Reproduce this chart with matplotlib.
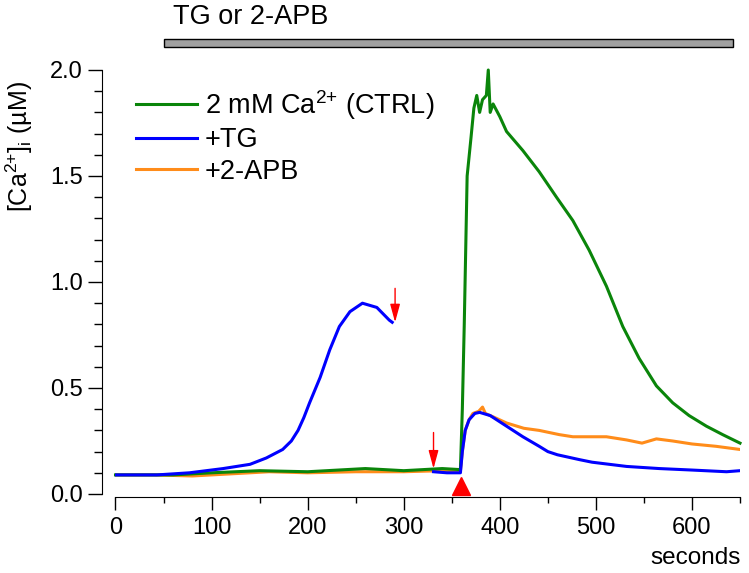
import numpy as np
import matplotlib
matplotlib.use('Agg')
import matplotlib.pyplot as plt
from matplotlib.patches import Rectangle
from matplotlib.ticker import MultipleLocator, FormatStrFormatter

plt.rcParams['font.family'] = ['Liberation Sans', 'DejaVu Sans']
plt.rcParams['mathtext.fontset'] = 'custom'
plt.rcParams['mathtext.rm'] = 'Liberation Sans'
plt.rcParams['mathtext.it'] = 'Liberation Sans:italic'
plt.rcParams['mathtext.bf'] = 'Liberation Sans:bold'

# traces (seconds, uM)
ctrl_t = [0, 30, 60, 100, 150, 200, 260, 300, 340, 359, 361, 363, 366, 370, 373, 376, 379,
          382, 386, 388, 390, 393, 400, 407, 424, 441, 459, 476, 493, 511, 528, 545, 563,
          580, 597, 615, 632, 650]
ctrl_ca = [0.09, 0.09, 0.09, 0.10, 0.11, 0.105, 0.12, 0.11, 0.12, 0.115, 0.4, 0.8, 1.5, 1.68,
           1.82, 1.88, 1.80, 1.86, 1.88, 2.0, 1.80, 1.84, 1.78, 1.71, 1.62, 1.52, 1.40, 1.29,
           1.15, 0.98, 0.79, 0.64, 0.51, 0.43, 0.37, 0.32, 0.28, 0.24]

tg_t = [0, 43, 77, 112, 140, 157, 174, 183, 190, 196, 202, 213, 223, 233, 244, 257, 272, 285,
        288,
        np.nan,
        331, 345, 359, 361, 364, 368, 374, 379, 390, 407, 424, 441, 450, 460, 470, 483, 496,
        532, 566, 600, 636, 650]
tg_ca = [0.09, 0.09, 0.10, 0.12, 0.14, 0.17, 0.21, 0.25, 0.30, 0.36, 0.43, 0.55, 0.68, 0.79,
         0.86, 0.90, 0.88, 0.82, 0.81,
         np.nan,
         0.105, 0.10, 0.10, 0.2, 0.3, 0.35, 0.38, 0.385, 0.37, 0.32, 0.27, 0.225, 0.20, 0.185,
         0.175, 0.162, 0.15, 0.13, 0.12, 0.113, 0.105, 0.11]

apb_t = [0, 40, 80, 120, 160, 200, 250, 300, 340, 359, 361, 364, 368, 372, 378, 382, 385, 395,
         407, 425, 441, 462, 476, 496, 511, 532, 548, 563, 580, 600, 625, 650]
apb_ca = [0.09, 0.09, 0.085, 0.095, 0.105, 0.10, 0.105, 0.105, 0.11, 0.11, 0.2, 0.3, 0.35,
          0.38, 0.39, 0.41, 0.38, 0.36, 0.335, 0.31, 0.30, 0.28, 0.27, 0.27, 0.27, 0.255, 0.24,
          0.26, 0.25, 0.236, 0.225, 0.21]

drug_on, drug_off = 50, 643
ca_add = 360
arrows = [(291, 0.97, 0.81), (331, 0.29, 0.12)]

fig = plt.figure(figsize=(7.49, 5.73), dpi=100)
ax = fig.add_axes([115.5 / 749, 1 - 494 / 573, (740 - 115.5) / 749, 424 / 573])

l_apb, = ax.plot(apb_t, apb_ca, color='#ff8c1a', lw=2.2, zorder=2, label='+2-APB')
l_ctrl, = ax.plot(ctrl_t, ctrl_ca, color='#0a850a', lw=2.2, zorder=3, clip_on=False,
                  label='2 mM Ca$^{2{+}}$ (CTRL)')
l_tg, = ax.plot(tg_t, tg_ca, color='#0000ff', lw=2.2, zorder=4, label='+TG')

for x, y0, y1 in arrows:
    ax.annotate('', xy=(x, y1), xytext=(x, y0),
                arrowprops=dict(arrowstyle='-|>,head_length=1.1,head_width=0.3',
                                color='red', lw=1, mutation_scale=10,
                                shrinkA=0, shrinkB=0), zorder=5)
ax.plot([ca_add], [0.04], marker='^', ms=12.5, color='red', clip_on=False, zorder=5)

ax.add_patch(Rectangle((drug_on, 2.108), drug_off - drug_on, 0.038, facecolor='#a0a0a0',
                       edgecolor='black', lw=1, clip_on=False))
ax.text(drug_on + 10, 2.25, 'TG or 2-APB', fontsize=19.5, va='center', ha='left')

ax.set_xlim(0, 650)
ax.set_ylim(0, 2.0)
ax.spines['top'].set_visible(False)
ax.spines['right'].set_visible(False)
ax.spines['left'].set_position(('outward', 9.4))
ax.spines['bottom'].set_position(('outward', 2))
ax.xaxis.set_major_locator(MultipleLocator(100))
ax.xaxis.set_minor_locator(MultipleLocator(50))
ax.yaxis.set_major_locator(MultipleLocator(0.5))
ax.yaxis.set_minor_locator(MultipleLocator(0.1))
ax.yaxis.set_major_formatter(FormatStrFormatter('%.1f'))
ax.tick_params(axis='both', which='major', labelsize=17, width=1)
ax.tick_params(axis='x', which='major', length=9.5, pad=5)
ax.tick_params(axis='x', which='minor', length=4.5, width=1)
ax.tick_params(axis='y', which='major', length=10, pad=4)
ax.tick_params(axis='y', which='minor', length=5.8, width=1)

fig.text(19 / 749, 1 - 147 / 573, r'[Ca$^{2{+}}$]$_{\rm i}$ (µM)', rotation=90,
         fontsize=18, ha='center', va='center')
fig.text(741 / 749, 1 - 558 / 573, 'seconds', fontsize=17.5, ha='right', va='center')

ax.legend(handles=[l_ctrl, l_tg, l_apb], loc='upper left', frameon=False, fontsize=19.5,
          bbox_to_anchor=(20 / 624.5, 1 - 18 / 424), borderaxespad=0, borderpad=0,
          handlelength=2.26, handletextpad=0.3, labelspacing=0.2)

fig.savefig('out.png', dpi=100)
